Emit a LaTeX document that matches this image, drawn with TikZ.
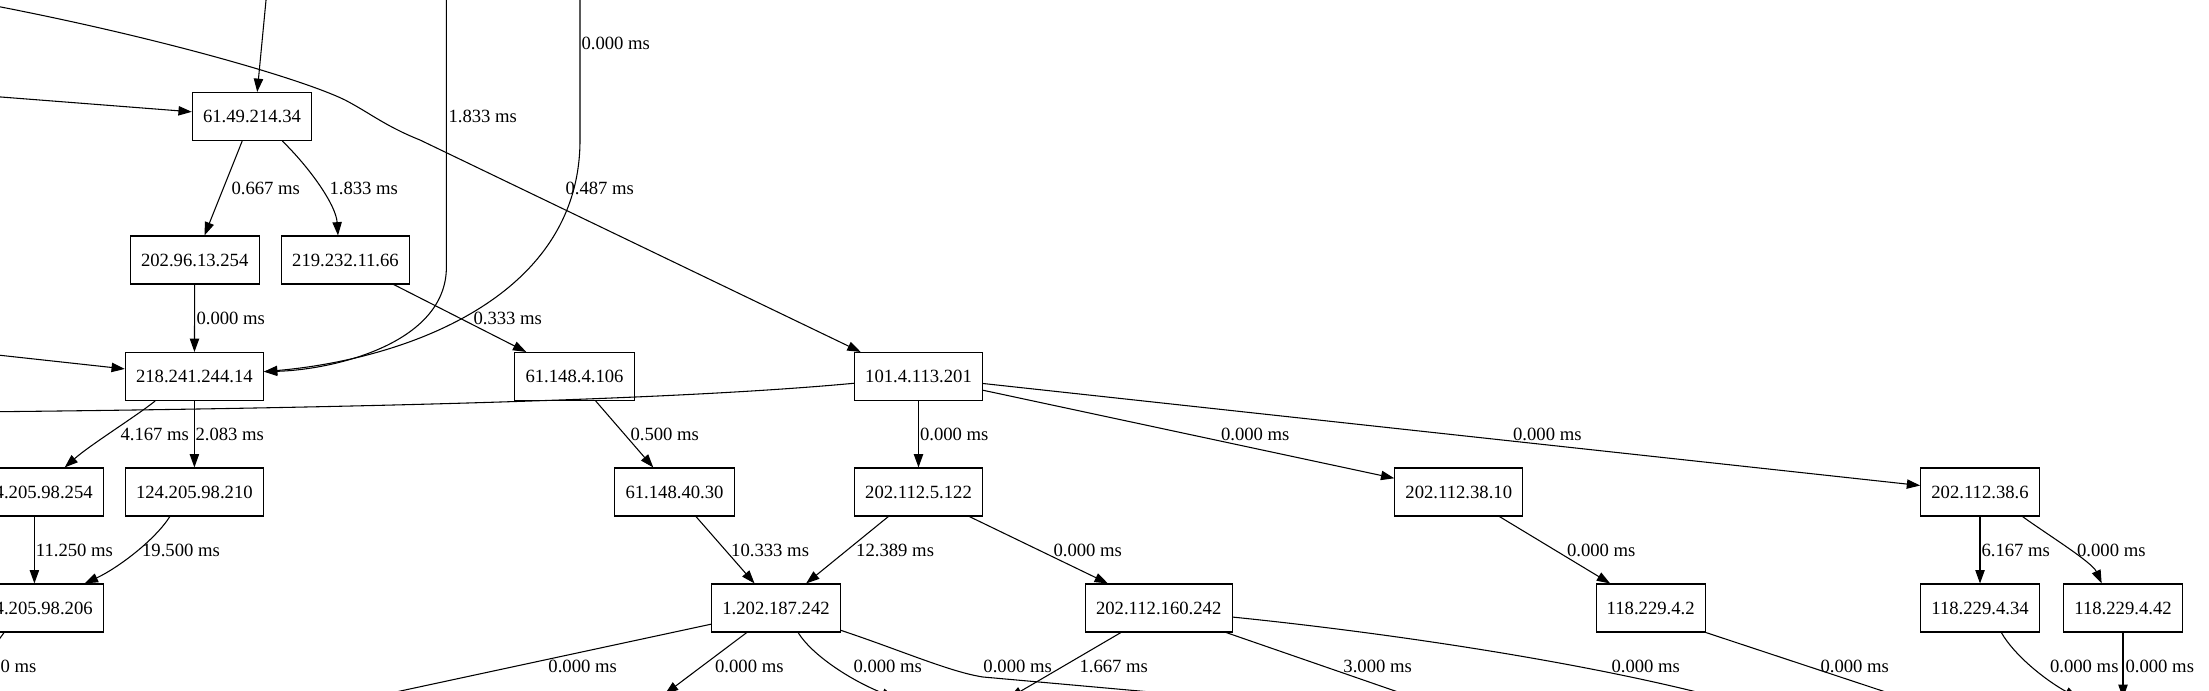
\documentclass[tikz,border=0pt]{standalone}
\usepackage{fontspec}
\setmainfont{Liberation Serif}
\usetikzlibrary{arrows.meta}

\begin{document}
\begin{tikzpicture}[x=0.75pt, y=-0.75pt, line width=0.8pt,
	>={Triangle[length=10pt,width=7pt]},
	hop/.style={draw, rectangle, minimum height=36pt, inner xsep=8pt, font=\fontsize{14pt}{16pt}\selectfont},
	ms/.style={anchor=west, inner sep=0pt, font=\fontsize{14pt}{16pt}\selectfont}]
	\useasboundingbox (0,0) rectangle (2209,691);
	\clip (0,0) rectangle (2209,691);

	%hops
	\node[hop] (ip214-34) at (252,116.5) {61.49.214.34};
	\node[hop] (ip13-254) at (194.7,260) {202.96.13.254};
	\node[hop] (ip11-66) at (345.5,260) {219.232.11.66};
	\node[hop] (ip244-14) at (194.4,376.5) {218.241.244.14};
	\node[hop] (ip4-106) at (574.5,376.5) {61.148.4.106};
	\node[hop] (ip113-201) at (918.5,376.5) {101.4.113.201};
	\node[hop] (ip98-254) at (34.4,492) {124.205.98.254};
	\node[hop] (ip98-210) at (194.4,492) {124.205.98.210};
	\node[hop] (ip40-30) at (674.5,492) {61.148.40.30};
	\node[hop] (ip5-122) at (918.5,492) {202.112.5.122};
	\node[hop] (ip38-10) at (1458.8,492) {202.112.38.10};
	\node[hop] (ip38-6) at (1980,492) {202.112.38.6};
	\node[hop] (ip98-206) at (34.4,608) {124.205.98.206};
	\node[hop] (ip187-242) at (776,608) {1.202.187.242};
	\node[hop] (ip160-242) at (1158.7,608) {202.112.160.242};
	\node[hop] (ip4-2) at (1650.7,608) {118.229.4.2};
	\node[hop] (ip4-34) at (1980,608) {118.229.4.34};
	\node[hop] (ip4-42) at (2123,608) {118.229.4.42};

	%ends outside the picture
	\coordinate (top1) at (267,-10);
	\coordinate (top2) at (446.4,-10);
	\coordinate (top3) at (580,-10);
	\coordinate (left1) at (-30,94.6);
	\coordinate (left2) at (-20,3);
	\coordinate (left3) at (-30,352);
	\coordinate (left4) at (-30,412);
	\coordinate (low1) at (-45,700);
	\coordinate (low2) at (340,704);
	\coordinate (low3) at (665,694);
	\coordinate (low4) at (895,698);
	\coordinate (low5) at (1240,700);
	\coordinate (low6) at (1009,698);
	\coordinate (low7) at (1450,710);
	\coordinate (low8) at (1750,706);
	\coordinate (low9) at (1940,710);
	\coordinate (low10) at (2078,698);
	\coordinate (low11) at (2123,698);

	%from above
	\draw[->] (top1) -- (ip214-34.78);
	\draw[->] (left1) -- (ip214-34);
	\draw[->] (left2) .. controls (150,35) and (300,78) .. (345,100) .. controls (370,113) and (385,126) .. (420,140) -- (ip113-201.157) node[ms] (lb1) at (565,188) {0.487 ms};
	\draw[->] (top2) -- (446.4,267) .. controls (446.4,345) and (330,370) .. (ip244-14.4) node[ms] (lb2) at (448,116) {1.833 ms};
	\draw[->] (top3) -- (580,140) .. controls (580,300) and (400,360) .. (ip244-14.4) node[ms] (lb3) at (581,43) {0.000 ms};
	\draw[->] (left3) -- (ip244-14);

	%upper rows
	\draw[->] (ip214-34) -- (ip13-254) node[ms] (lb4) at (231,188) {0.667 ms};
	\draw[->] (ip214-34.-39) .. controls (310,168) and (336,205) .. (ip11-66.107) node[ms] (lb5) at (329,188) {1.833 ms};
	\draw[->] (ip13-254) -- (ip244-14) node[ms] (lb6) at (196,318) {0.000 ms};
	\draw[->] (ip11-66) -- (ip4-106) node[ms] (lb7) at (473,318) {0.333 ms};
	\draw[->] (ip113-201.186) .. controls (760,392) and (550,406) .. (left4);
	\draw[->] (ip244-14.-148) .. controls (135,417) and (90,445) .. (ip98-254.39) node[ms] (lb8) at (120,434) {4.167 ms};
	\draw[->] (ip244-14) -- (ip98-210) node[ms] (lb9) at (195,434) {2.083 ms};
	\draw[->] (ip4-106) -- (ip40-30) node[ms] (lb10) at (630,434) {0.500 ms};
	\draw[->] (ip113-201) -- (ip5-122) node[ms] (lb11) at (919.5,434) {0.000 ms};
	\draw[->] (ip113-201) -- (ip38-10) node[ms] (lb12) at (1220.5,434) {0.000 ms};
	\draw[->] (ip113-201) -- (ip38-6) node[ms] (lb13) at (1512.6,434) {0.000 ms};

	%middle rows
	\draw[->] (ip98-254) -- (ip98-206) node[ms] (lb14) at (35.4,550) {11.250 ms};
	\draw[->] (ip98-210.-135) .. controls (155,540) and (118,568) .. (ip98-206.26) node[ms] (lb15) at (141.6,550) {19.500 ms};
	\draw[->] (ip40-30) -- (ip187-242) node[ms] (lb16) at (730.7,550) {10.333 ms};
	\draw[->] (ip5-122) -- (ip187-242) node[ms] (lb17) at (855.7,550) {12.389 ms};
	\draw[->] (ip5-122) -- (ip160-242) node[ms] (lb18) at (1053,550) {0.000 ms};
	\draw[->] (ip38-10) -- (ip4-2) node[ms] (lb19) at (1566.5,550) {0.000 ms};
	\draw[->] (ip38-6) -- (ip4-34) node[ms] (lb20) at (1981,550) {6.167 ms};
	\draw[->] (ip38-6.-30) .. controls (2045,533) and (2092,562) .. (ip4-42.131) node[ms] (lb21) at (2076.6,550) {0.000 ms};

	%to below
	\draw[->] (ip98-206.-141) -- (low1) node[ms] (lb22) at (-32.5,666) {0.000 ms};
	\draw[->] (ip187-242.194) -- (low2) node[ms] (lb23) at (547.9,666) {0.000 ms};
	\draw[->] (ip187-242.-140) -- (low3) node[ms] (lb24) at (714.6,666) {0.000 ms};
	\draw[->] (ip187-242.-48) .. controls (812,655) and (850,680) .. (low4) node[ms] (lb25) at (853,666) {0.000 ms};
	\draw[->] (ip187-242.-19) .. controls (900,650) and (950,672) .. (983,677) -- (low5) node[ms] (lb26) at (982.9,666) {0.000 ms};
	\draw[->] (ip160-242.-147) -- (low6) node[ms] (lb27) at (1079,666) {1.667 ms};
	\draw[->] (ip160-242.-20) -- (low7) node[ms] (lb28) at (1342.9,666) {3.000 ms};
	\draw[->] (ip160-242.-7) .. controls (1380,632) and (1590,662) .. (low8) node[ms] (lb29) at (1611,666) {0.000 ms};
	\draw[->] (ip4-2.south east) -- (low9) node[ms] (lb30) at (1820,666) {0.000 ms};
	\draw[->] (ip4-34.-49) .. controls (2014,655) and (2045,680) .. (low10) node[ms] (lb31) at (2049.5,666) {0.000 ms};
	\draw[->] (ip4-42) -- (low11) node[ms] (lb32) at (2125,666) {0.000 ms};
\end{tikzpicture}
\end{document}
